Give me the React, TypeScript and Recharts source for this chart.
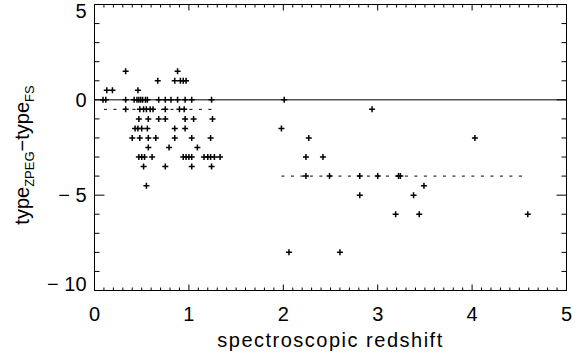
import { ScatterChart, Scatter, XAxis, YAxis, ReferenceLine, ReferenceArea } from "recharts";

// spectroscopic redshift of each galaxy (x) and type difference ZPEG - FS (y)
const redshift = [
  0.33, 0.88,
  0.67, 0.85, 0.91, 0.94, 0.97,
  0.13, 0.19, 0.46,
  0.09, 0.12, 0.33, 0.42, 0.45, 0.47, 0.49, 0.51, 0.54, 0.56, 0.68, 0.75, 0.81, 0.88, 0.96, 1.03, 1.24,
  0.33, 0.48, 0.52, 0.55, 0.59, 0.62, 0.75, 0.9, 0.95,
  0.47, 0.57, 0.68, 0.75, 0.96, 1.05, 1.25,
  0.43, 0.46, 0.5, 0.56, 0.85, 0.96,
  0.4, 0.48, 0.57, 0.65, 0.85, 1.03, 1.23,
  0.57, 0.79, 1.09,
  0.47, 0.5, 0.53, 0.61, 0.94, 0.97, 1.0, 1.03, 1.16, 1.2, 1.23, 1.27, 1.33,
  0.52, 0.75, 1.03, 1.24,
  0.55,
  // high redshift sample
  2.01, 2.94, 1.98, 2.27, 4.03, 2.24, 2.42, 2.24, 2.49, 2.81, 3.0, 3.22, 3.24,
  3.49, 2.81, 3.38, 3.19, 3.44, 4.59, 2.06, 2.6,
];

const typeDiff = [
  1.5, 1.5,
  1, 1, 1, 1, 1,
  0.5, 0.5, 0.5,
  0, 0, 0, 0, 0, 0, 0, 0, 0, 0, 0, 0, 0, 0, 0, 0, 0,
  -0.5, -0.5, -0.5, -0.5, -0.5, -0.5, -0.5, -0.5, -0.5,
  -1, -1, -1, -1, -1, -1, -1,
  -1.5, -1.5, -1.5, -1.5, -1.5, -1.5,
  -2, -2, -2, -2, -2, -2, -2,
  -2.5, -2.5, -2.5,
  -3, -3, -3, -3, -3, -3, -3, -3, -3, -3, -3, -3, -3,
  -3.5, -3.5, -3.5, -3.5,
  -4.5,
  0, -0.5, -1.5, -2, -2, -3, -3, -4, -4, -4, -4, -4, -4,
  -4.5, -5, -5, -6, -6, -6, -8, -8,
];

// median levels of the two samples (dotted segments)
const lowMedian = { from: 0.1, to: 1.3, value: -0.5 };
const highMedian = { from: 1.98, to: 4.55, value: -4 };

const xMajorTicks = [0, 1, 2, 3, 4, 5];
const yMajorTicks = [-10, -5, 0, 5];
const xTicks = Array.from({ length: 51 }, (_, i) => i / 10);
const yTicks = Array.from({ length: 16 }, (_, i) => i - 10);

const points = redshift.map((z, i) => ({ z, dt: typeDiff[i] }));

const W = 580;
const H = 356;
const M = { top: 4.5, right: 13.5, bottom: 0, left: 0 };
const Y_AXIS_W = 94.5;
const X_AXIS_H = 65.5;
const PLOT_LEFT = M.left + Y_AXIS_W;
const PLOT_RIGHT = W - M.right;
const PLOT_TOP = M.top;
const PLOT_BOTTOM = H - M.bottom - X_AXIS_H;
const FONT = "'Liberation Sans', Arial, sans-serif";

const isMajor = (v: number, list: number[]) => list.some((m) => Math.abs(m - v) < 1e-6);
const fmt = (v: number) => (v < 0 ? "\u2212 " + Math.abs(v) : String(v));

const XTick = (props: any) => {
  const { x, y, payload } = props;
  const major = isMajor(payload.value, xMajorTicks);
  const len = major ? 6 : 3;
  return (
    <g>
      <line x1={x} x2={x} y1={y} y2={y - len} stroke="#000" strokeWidth={1} />
      <line x1={x} x2={x} y1={PLOT_TOP} y2={PLOT_TOP + len} stroke="#000" strokeWidth={1} />
      {major && (
        <text x={x} y={y + 30} textAnchor="middle" fontFamily={FONT} fontSize={20} fill="#000">
          {fmt(payload.value)}
        </text>
      )}
    </g>
  );
};

const YTick = (props: any) => {
  const { x, y, payload } = props;
  const major = isMajor(payload.value, yMajorTicks);
  const len = major ? 10 : 5;
  // keep the end labels inside the frame height, as the original does
  const baseline = Math.min(Math.max(y + 7, PLOT_TOP + 13.5), PLOT_BOTTOM);
  return (
    <g>
      <line x1={x} x2={x + len} y1={y} y2={y} stroke="#000" strokeWidth={1} />
      <line x1={PLOT_RIGHT} x2={PLOT_RIGHT - len} y1={y} y2={y} stroke="#000" strokeWidth={1} />
      {major && (
        <text x={x - 8} y={baseline} textAnchor="end" fontFamily={FONT} fontSize={20} fill="#000">
          {fmt(payload.value)}
        </text>
      )}
    </g>
  );
};

const PlusMark = (props: any) => {
  const { cx, cy } = props;
  const a = 3;
  return (
    <path
      d={`M${cx - a},${cy}H${cx + a}M${cx},${cy - a}V${cy + a}`}
      stroke="#000"
      strokeWidth={1.5}
      fill="none"
    />
  );
};

export default function App() {
  return (
    <div style={{ position: "absolute", left: 0, top: 0, width: W, height: H, background: "#fff" }}>
      <ScatterChart width={W} height={H} margin={M}>
        <XAxis
          type="number"
          dataKey="z"
          domain={[0, 5]}
          ticks={xTicks}
          interval={0}
          tickSize={0}
          tickMargin={0}
          tickLine={false}
          axisLine={false}
          tick={<XTick />}
          height={X_AXIS_H}
          label={{
            content: () => (
              <text
                x={(PLOT_LEFT + PLOT_RIGHT) / 2}
                y={347}
                textAnchor="middle"
                fontFamily={FONT}
                fontSize={20}
                letterSpacing={1.5}
                fill="#000"
              >
                spectroscopic redshift
              </text>
            ),
          }}
        />
        <YAxis
          type="number"
          dataKey="dt"
          domain={[-10, 5]}
          ticks={yTicks}
          interval={0}
          tickSize={0}
          tickMargin={0}
          tickLine={false}
          axisLine={false}
          tick={<YTick />}
          width={Y_AXIS_W}
          label={{
            content: () => (
              <text
                transform="translate(29,155) rotate(-90)"
                textAnchor="middle"
                fontFamily={FONT}
                fontSize={20}
                fill="#000"
              >
                type
                <tspan fontSize={13} dy={5}>ZPEG</tspan>
                <tspan dy={-5}>{"\u2212type"}</tspan>
                <tspan fontSize={13} dy={5}>FS</tspan>
              </text>
            ),
          }}
        />
        <ReferenceArea x1={0} x2={5} y1={-10} y2={5} fill="none" stroke="#000" strokeWidth={1} />
        <ReferenceLine y={0} stroke="#000" strokeWidth={1} />
        <ReferenceLine
          segment={[
            { x: lowMedian.from, y: lowMedian.value },
            { x: lowMedian.to, y: lowMedian.value },
          ]}
          stroke="#000"
          strokeDasharray="3 6.5"
        />
        <ReferenceLine
          segment={[
            { x: highMedian.from, y: highMedian.value },
            { x: highMedian.to, y: highMedian.value },
          ]}
          stroke="#000"
          strokeDasharray="3 6.5"
        />
        <Scatter data={points} shape={<PlusMark />} isAnimationActive={false} />
      </ScatterChart>
    </div>
  );
}
